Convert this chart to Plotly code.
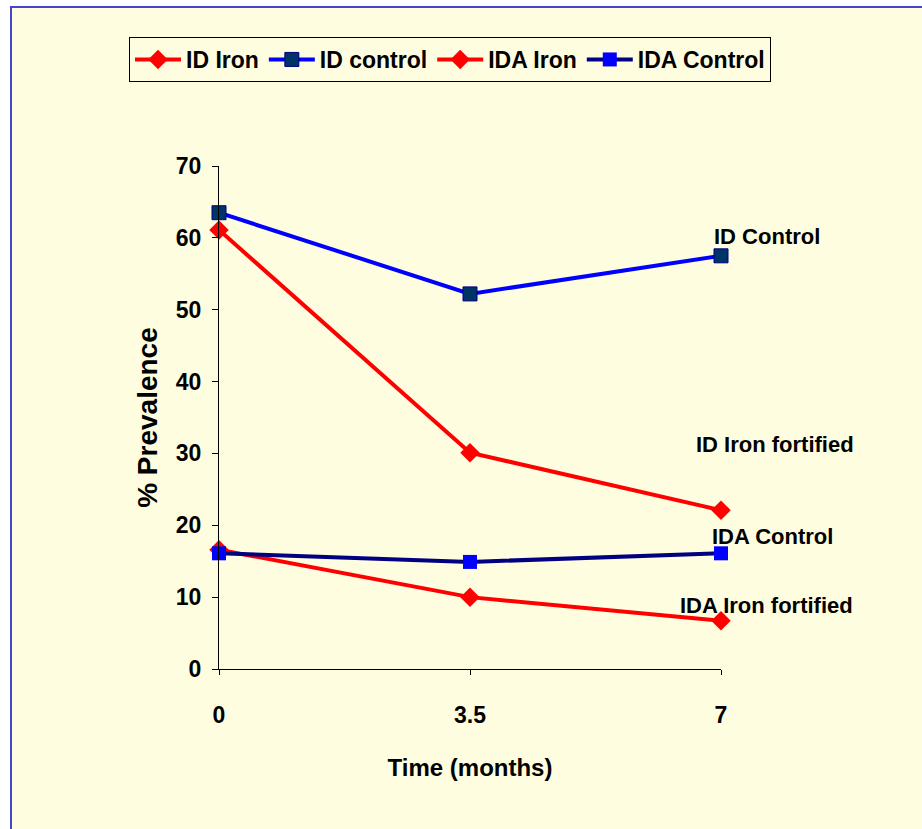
import plotly.graph_objects as go

months = [0, 3.5, 7]
id_iron = [61.1, 30.1, 22.1]
id_control = [63.5, 52.2, 57.5]
ida_iron = [16.6, 10.0, 6.7]
ida_control = [16.1, 14.9, 16.1]

series_names = ["ID Iron", "ID control", "IDA Iron", "IDA Control"]
labels = ["ID Control", "ID Iron fortified", "IDA Control", "IDA Iron fortified"]
label_y = [60.2, 31.3, 18.5, 8.8]
label_shift = [46, 54, 51, 45]
x_ticks = [0, 3.5, 7]
x_tick_text = ["0", "3.5", "7"]
y_ticks = [0, 10, 20, 30, 40, 50, 60, 70]

FONT = "Liberation Sans Narrow, Liberation Sans, Arial, sans-serif"
BG = "#FFFDE0"

fig = go.Figure()
fig.add_trace(go.Scatter(x=months, y=id_iron, name=series_names[0], mode="lines+markers",
                         line=dict(color="#FF0000", width=4),
                         marker=dict(symbol="diamond", size=15, color="#FF0000",
                                     line=dict(width=0)), cliponaxis=False))
fig.add_trace(go.Scatter(x=months, y=id_control, name=series_names[1], mode="lines+markers",
                         line=dict(color="#0000FF", width=4),
                         marker=dict(symbol="square", size=14, color="#003366",
                                     line=dict(width=1, color="#000080")), cliponaxis=False))
fig.add_trace(go.Scatter(x=months, y=ida_iron, name=series_names[2], mode="lines+markers",
                         line=dict(color="#FF0000", width=4),
                         marker=dict(symbol="diamond", size=15, color="#FF0000",
                                     line=dict(width=0)), cliponaxis=False))
fig.add_trace(go.Scatter(x=months, y=ida_control, name=series_names[3], mode="lines+markers",
                         line=dict(color="#000080", width=4),
                         marker=dict(symbol="square", size=14, color="#0000FF",
                                     line=dict(width=0)), cliponaxis=False))

annotations = []
for t, yv, sh in zip(labels, label_y, label_shift):
    annotations.append(dict(x=7, y=yv, xref="x", yref="y", text="<b>%s</b>" % t,
                            showarrow=False, xanchor="center", xshift=sh,
                            font=dict(family=FONT, size=22, color="#000000")))

L, R, T, B = 219, 201, 166, 160
W, H = 922, 829
pw, ph = W - L - R, H - T - B
def px_x(p):
    return (p - L) / pw
def px_y(p):
    return (H - B - p) / ph

fig.update_layout(
    width=W, height=H,
    margin=dict(l=L, r=R, t=T, b=B),
    paper_bgcolor="white",
    plot_bgcolor="rgba(0,0,0,0)",
    font=dict(family=FONT, color="#000000", size=22),
    showlegend=True,
    legend=dict(orientation="h", x=px_x(129), y=px_y(37), xanchor="left", yanchor="top",
                bgcolor=BG, bordercolor="#000000", borderwidth=1,
                font=dict(family=FONT, size=23, color="#000000", weight="bold"),
                itemwidth=46, tracegroupgap=0),
    shapes=[dict(type="rect", xref="paper", yref="paper",
                 x0=px_x(11), x1=px_x(960), y0=px_y(870), y1=px_y(7),
                 fillcolor=BG, line=dict(color="#4444CC", width=2), layer="below")],
    annotations=annotations,
    xaxis=dict(range=[0, 7], tickvals=x_ticks, ticktext=x_tick_text, showgrid=False,
               zeroline=False, showline=True, linecolor="#000000", linewidth=1,
               ticks="outside", ticklen=5, tickcolor="#000000", ticklabelstandoff=20,
               tickfont=dict(family=FONT, size=23, weight="bold"),
               title=dict(text="<b>Time (months)</b>", font=dict(family=FONT, size=24), standoff=32)),
    yaxis=dict(range=[0, 70], tickvals=y_ticks, showgrid=False, zeroline=False,
               showline=True, linecolor="#000000", linewidth=1,
               ticks="outside", ticklen=6, tickcolor="#000000", ticklabelstandoff=6,
               tickfont=dict(family=FONT, size=23, weight="bold"),
               title=dict(text="<b>% Prevalence</b>", font=dict(family=FONT, size=28), standoff=10)),
)

fig.write_html("out.html", config={"displayModeBar": False},
               post_script="document.body.style.margin='0';document.body.style.overflow='hidden';")
